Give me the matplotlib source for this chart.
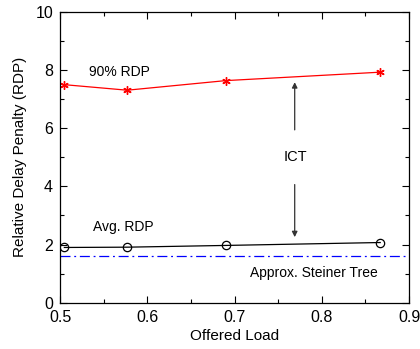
import matplotlib.pyplot as plt
from matplotlib.ticker import MultipleLocator

plt.rcParams['font.family'] = ['Liberation Sans', 'DejaVu Sans']

# data
load = [0.505, 0.577, 0.690, 0.867]
rdp90 = [7.50, 7.31, 7.64, 7.93]
rdp_avg = [1.90, 1.91, 1.97, 2.07]
steiner = 1.61

fig = plt.figure(figsize=(4.2, 3.49), dpi=100)
ax = fig.add_axes([60 / 420, 1 - 302.7 / 349, 349 / 420, 290.7 / 349])

ax.plot(load, rdp90, color='red', lw=0.9, marker=(6, 2, 0), ms=6, mew=1.0)
ax.plot(load, rdp_avg, color='black', lw=0.9, marker='o', ms=6,
        mfc='none', mew=0.9)
ax.axhline(steiner, color='blue', lw=0.9, ls='-.', dashes=(8, 3, 1.5, 3))

ax.annotate('', xy=(0.769, 7.68), xytext=(0.769, 5.85),
            arrowprops=dict(arrowstyle='-|>', color='#333333', lw=0.9,
                            mutation_scale=8))
ax.annotate('', xy=(0.769, 2.16), xytext=(0.769, 4.16),
            arrowprops=dict(arrowstyle='-|>', color='#333333', lw=0.9,
                            mutation_scale=8))
ax.text(0.770, 5.02, 'ICT', ha='center', va='center', fontsize=10.5)
ax.text(0.568, 7.94, '90% RDP', ha='center', va='center', fontsize=10)
ax.text(0.572, 2.62, 'Avg. RDP', ha='center', va='center', fontsize=10)
ax.text(0.791, 1.02, 'Approx. Steiner Tree', ha='center', va='center',
        fontsize=10)

ax.set_xlim(0.5, 0.9)
ax.set_ylim(0, 10)
ax.xaxis.set_major_locator(MultipleLocator(0.1))
ax.xaxis.set_minor_locator(MultipleLocator(0.05))
ax.yaxis.set_major_locator(MultipleLocator(2))
ax.yaxis.set_minor_locator(MultipleLocator(1))
ax.tick_params(which='both', direction='in', top=True, right=True,
               labelsize=11.5, width=0.8, pad=5)
ax.tick_params(which='major', length=5)
ax.tick_params(which='minor', length=3)
ax.set_xlabel('Offered Load', fontsize=11, labelpad=3)
ax.set_ylabel('Relative Delay Penalty (RDP)', fontsize=11, labelpad=6)
for s in ax.spines.values():
    s.set_linewidth(0.9)

fig.savefig('out.png', dpi=100)
